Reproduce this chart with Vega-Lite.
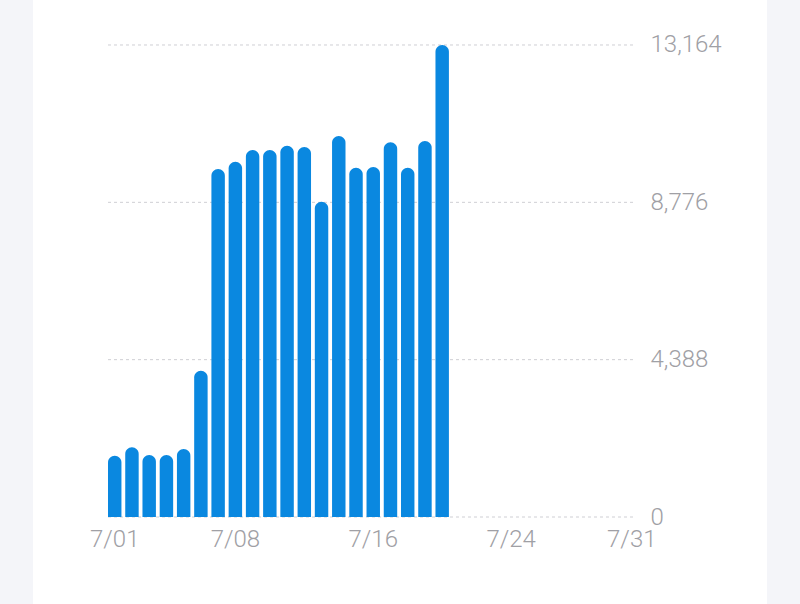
{
  "$schema": "https://vega.github.io/schema/vega-lite/v6.json",
  "width": 734,
  "height": 604,
  "autosize": {"type": "none"},
  "padding": {"left": 33, "right": 33, "top": 0, "bottom": 0},
  "background": "#f4f5f9",
  "view": {"fill": "#ffffff", "stroke": null},
  "config": {"font": "Roboto"},
  "layer": [
    {
      "data": {"values": [
        {"tick": 0}, {"tick": 4388}, {"tick": 8776}, {"tick": 13164}
      ]},
      "mark": {"type": "rule", "stroke": "#cfcfd4", "strokeWidth": 1, "strokeDash": [3, 3]},
      "encoding": {
        "y": {
          "field": "tick", "type": "quantitative",
          "scale": {"domain": [-2426.4, 14419], "nice": false, "zero": false},
          "axis": {
            "orient": "right", "offset": -117, "values": [0, 4388, 8776, 13164], "format": ",.0f",
            "ticks": false, "domain": false, "grid": false, "title": null,
            "labelPadding": 0, "labelAlign": "left", "labelBaseline": "middle",
            "labelFontSize": 24, "labelFontWeight": 300, "labelColor": "#a0a0a5"
          }
        },
        "x": {
          "datum": "7/01", "type": "ordinal", "bandPosition": 0,
          "axis": {
            "orient": "bottom", "offset": -87, "values": ["7/01","7/08","7/16","7/24","7/31"],
            "ticks": false, "domain": false, "grid": false, "labelAngle": 0, "title": null,
            "bandPosition": 0.5, "labelAlign": "center",
            "labelPadding": 10, "labelFontSize": 24, "labelFontWeight": 300, "labelColor": "#a0a0a5"
          }
        },
        "x2": {"datum": "7/31", "bandPosition": 0.8}
      }
    },
    {
      "data": {"values": [
        {"day": "7/01", "value": 1710},
        {"day": "7/02", "value": 1944},
        {"day": "7/03", "value": 1729},
        {"day": "7/04", "value": 1729},
        {"day": "7/05", "value": 1897},
        {"day": "7/06", "value": 4080},
        {"day": "7/07", "value": 9706},
        {"day": "7/08", "value": 9909},
        {"day": "7/09", "value": 10236},
        {"day": "7/10", "value": 10236},
        {"day": "7/11", "value": 10356},
        {"day": "7/12", "value": 10319},
        {"day": "7/13", "value": 8794},
        {"day": "7/14", "value": 10626},
        {"day": "7/15", "value": 9742},
        {"day": "7/16", "value": 9761},
        {"day": "7/17", "value": 10450},
        {"day": "7/18", "value": 9742},
        {"day": "7/19", "value": 10487},
        {"day": "7/20", "value": 13164}
      ]},
      "mark": {"type": "bar", "color": "#0a88e0", "cornerRadiusTopLeft": 7, "cornerRadiusTopRight": 7},
      "encoding": {
        "x": {
          "field": "day", "type": "ordinal",
          "scale": {
            "domain": ["7/01","7/02","7/03","7/04","7/05","7/06","7/07","7/08","7/09","7/10","7/11","7/12","7/13","7/14","7/15","7/16","7/17","7/18","7/19","7/20","7/21","7/22","7/23","7/24","7/25","7/26","7/27","7/28","7/29","7/30","7/31"],
            "paddingInner": 0.22, "paddingOuter": 0, "range": [75, 605.5]
          },
          "axis": {
            "orient": "bottom", "offset": -87, "values": ["7/01","7/08","7/16","7/24","7/31"],
            "ticks": false, "domain": false, "grid": false, "labelAngle": 0, "title": null,
            "bandPosition": 0.5, "labelAlign": "center",
            "labelPadding": 10, "labelFontSize": 24, "labelFontWeight": 300, "labelColor": "#a0a0a5"
          }
        },
        "y": {
          "field": "value", "type": "quantitative",
          "scale": {"domain": [-2426.4, 14419], "nice": false, "zero": false},
          "axis": {
            "orient": "right", "offset": -117, "values": [0, 4388, 8776, 13164], "format": ",.0f",
            "ticks": false, "domain": false, "grid": false, "title": null,
            "labelPadding": 0, "labelAlign": "left", "labelBaseline": "middle",
            "labelFontSize": 24, "labelFontWeight": 300, "labelColor": "#a0a0a5"
          }
        },
        "y2": {"datum": 0}
      }
    }
  ]
}
